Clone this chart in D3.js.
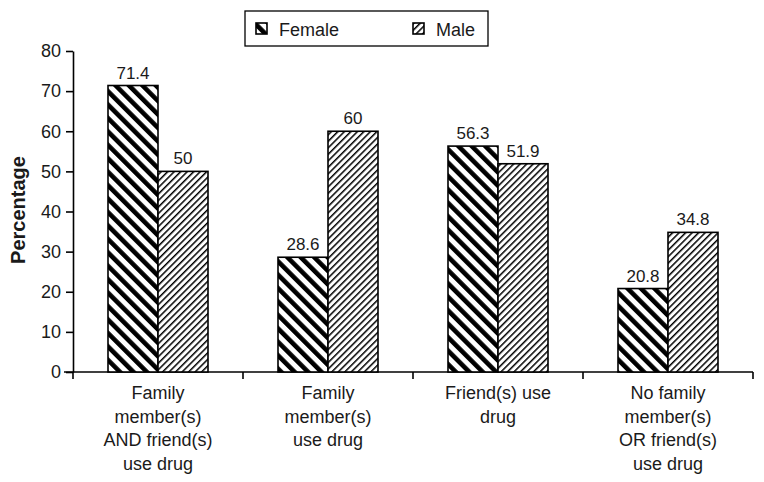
<!DOCTYPE html>
<html><head><meta charset="utf-8">
<script src="https://cdn.jsdelivr.net/npm/d3@7"></script>
<style>body{margin:0;background:#fff}svg{display:block;font-family:"Liberation Sans",Arial,sans-serif}</style>
</head><body><svg id="c" width="764" height="482"></svg>
<script>
const categories = [
  ["Family","member(s)","AND friend(s)","use drug"],
  ["Family","member(s)","use drug"],
  ["Friend(s) use","drug"],
  ["No family","member(s)","OR friend(s)","use drug"]
];
const seriesNames = ["Female","Male"];
const femaleValues = [71.4, 28.6, 56.3, 20.8];
const maleValues = [50, 60, 51.9, 34.8];
const yTicks = [0,10,20,30,40,50,60,70,80];

const svg = d3.select("#c");
const defs = svg.append("defs");
// Female: thick "\" stripes
const pf = defs.append("pattern").attr("id","pf").attr("patternUnits","userSpaceOnUse")
  .attr("width",9.5).attr("height",9.5).attr("patternTransform","rotate(-45)");
pf.append("rect").attr("width",9.5).attr("height",9.5).attr("fill","#fff");
pf.append("rect").attr("x",0).attr("width",4.6).attr("height",9.5).attr("fill","#000");
// Male: thin "/" lines
const pm = defs.append("pattern").attr("id","pm").attr("patternUnits","userSpaceOnUse")
  .attr("width",4.6).attr("height",4.6).attr("patternTransform","rotate(45)");
pm.append("rect").attr("width",4.6).attr("height",4.6).attr("fill","#fff");
pm.append("rect").attr("x",0).attr("width",1.5).attr("height",4.6).attr("fill","#000");
const fills = ["url(#pf)","url(#pm)"];

const x0 = 73, x1 = 753, yBot = 372, yTop = 51;
const x = d3.scaleBand().domain(d3.range(categories.length)).range([x0,x1]);
const y = d3.scaleLinear().domain([0,80]).range([yBot,yTop]);
const barW = 50;
const txt = "#1a1a1a";

// axes
const yAxis = svg.append("g").attr("transform",`translate(${x0},0)`)
  .call(d3.axisLeft(y).tickValues(yTicks).tickSize(7).tickSizeOuter(0).tickPadding(5));
yAxis.select(".domain").attr("stroke","#000").attr("stroke-width",1.6);
yAxis.selectAll(".tick line").attr("stroke","#000").attr("stroke-width",1.6);
yAxis.selectAll("text").attr("font-size",18).attr("fill",txt).attr("font-family","Liberation Sans, Arial, sans-serif");

// x axis line
svg.append("line").attr("x1",64).attr("x2",x1).attr("y1",yBot).attr("y2",yBot)
  .attr("stroke","#000").attr("stroke-width",1.6);
const xticks = d3.range(categories.length+1).map(i => x0 + i*x.bandwidth());
svg.selectAll(".xt").data(xticks).enter().append("line")
  .attr("x1",d=>d).attr("x2",d=>d).attr("y1",yBot).attr("y2",yBot+7)
  .attr("stroke","#000").attr("stroke-width",1.6);

// bars
const data = [];
categories.forEach((c,i)=>{
  data.push({i, s:0, v:femaleValues[i]});
  data.push({i, s:1, v:maleValues[i]});
});
const bx = d => x(d.i) + x.bandwidth()/2 + (d.s===0 ? -barW : 0);
svg.selectAll(".bar").data(data).enter().append("rect")
  .attr("x",bx).attr("width",barW)
  .attr("y",d=>y(d.v)).attr("height",d=>y(0)-y(d.v))
  .attr("fill",d=>fills[d.s]).attr("stroke","#000").attr("stroke-width",1.6);
svg.selectAll(".vl").data(data).enter().append("text")
  .attr("x",d=>bx(d)+barW/2).attr("y",d=>y(d.v)-7)
  .attr("text-anchor","middle").attr("font-size",17).attr("fill",txt)
  .text(d=>d.v);

// category labels
categories.forEach((lines,i)=>{
  const t = svg.append("text").attr("text-anchor","middle").attr("font-size",18).attr("fill",txt);
  lines.forEach((l,k)=>{
    t.append("tspan").attr("x",x(i)+x.bandwidth()/2).attr("y",399+k*23.6).text(l);
  });
});

// y title
svg.append("text").attr("transform","translate(25,210) rotate(-90)")
  .attr("text-anchor","middle").attr("font-size",20).attr("font-weight","bold").attr("fill",txt)
  .text("Percentage");

// legend
svg.append("rect").attr("x",245).attr("y",11).attr("width",243).attr("height",35)
  .attr("fill","#fff").attr("stroke","#000").attr("stroke-width",1.3);
const legX = [256, 413];
seriesNames.forEach((n,k)=>{
  svg.append("rect").attr("x",legX[k]).attr("y",23).attr("width",11).attr("height",11)
    .attr("fill",fills[k]).attr("stroke","#000").attr("stroke-width",1.6);
  svg.append("text").attr("x",legX[k]+23).attr("y",36).attr("font-size",18).attr("fill",txt).text(n);
});
</script></body></html>
